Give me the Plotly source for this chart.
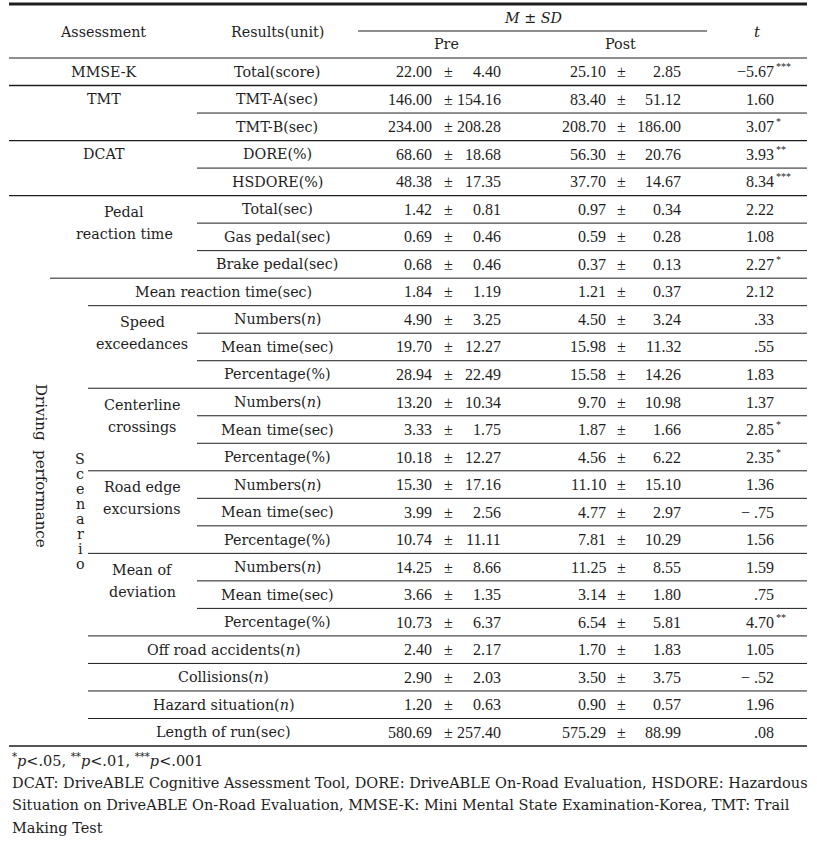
import plotly.graph_objects as go

# ---------------- data ----------------
group_labels = ["MMSE-K", "TMT", "DCAT"]
group_first_row = [0, 1, 3]

sub_group_labels = [["Pedal", "reaction time"], ["Speed", "exceedances"],
                    ["Centerline", "crossings"], ["Road edge", "excursions"],
                    ["Mean of", "deviation"]]
sub_group_first_row = [5, 9, 12, 15, 18]

results = ["Total(score)", "TMT-A(sec)", "TMT-B(sec)", "DORE(%)", "HSDORE(%)",
           "Total(sec)", "Gas pedal(sec)", "Brake pedal(sec)",
           "Mean reaction time(sec)",
           "Numbers(<i>n</i>)", "Mean time(sec)", "Percentage(%)",
           "Numbers(<i>n</i>)", "Mean time(sec)", "Percentage(%)",
           "Numbers(<i>n</i>)", "Mean time(sec)", "Percentage(%)",
           "Numbers(<i>n</i>)", "Mean time(sec)", "Percentage(%)",
           "Off road accidents(<i>n</i>)", "Collisions(<i>n</i>)",
           "Hazard situation(<i>n</i>)", "Length of run(sec)"]
wide_rows = [8, 21, 22, 23, 24]

pre_mean = ["22.00", "146.00", "234.00", "68.60", "48.38", "1.42", "0.69", "0.68",
            "1.84", "4.90", "19.70", "28.94", "13.20", "3.33", "10.18", "15.30",
            "3.99", "10.74", "14.25", "3.66", "10.73", "2.40", "2.90", "1.20", "580.69"]
pre_sd = ["4.40", "154.16", "208.28", "18.68", "17.35", "0.81", "0.46", "0.46",
          "1.19", "3.25", "12.27", "22.49", "10.34", "1.75", "12.27", "17.16",
          "2.56", "11.11", "8.66", "1.35", "6.37", "2.17", "2.03", "0.63", "257.40"]
post_mean = ["25.10", "83.40", "208.70", "56.30", "37.70", "0.97", "0.59", "0.37",
             "1.21", "4.50", "15.98", "15.58", "9.70", "1.87", "4.56", "11.10",
             "4.77", "7.81", "11.25", "3.14", "6.54", "1.70", "3.50", "0.90", "575.29"]
post_sd = ["2.85", "51.12", "186.00", "20.76", "14.67", "0.34", "0.28", "0.13",
           "0.37", "3.24", "11.32", "14.26", "10.98", "1.66", "6.22", "15.10",
           "2.97", "10.29", "8.55", "1.80", "5.81", "1.83", "3.75", "0.57", "88.99"]
t_value = ["−5.67", "1.60", "3.07", "3.93", "8.34", "2.22", "1.08", "2.27",
           "2.12", ".33", ".55", "1.83", "1.37", "2.85", "2.35", "1.36",
           "− .75", "1.56", "1.59", ".75", "4.70", "1.05", "− .52", "1.96", ".08"]
t_sig = ["***", "", "*", "**", "***", "", "", "*",
         "", "", "", "", "", "*", "*", "",
         "", "", "", "", "**", "", "", "", ""]

headers = ["Assessment", "Results(unit)", "<i>M</i> ± <i>SD</i>", "Pre", "Post", "<i>t</i>"]
side_label = "Driving  performance"
scenario_letters = list("Scenario")

footnotes = [
    "<sup>*</sup><i>p</i>&lt;.05, <sup>**</sup><i>p</i>&lt;.01, <sup>***</sup><i>p</i>&lt;.001",
    "DCAT: DriveABLE Cognitive Assessment Tool, DORE: DriveABLE On-Road Evaluation, HSDORE: Hazardous",
    "Situation on DriveABLE On-Road Evaluation, MMSE-K: Mini Mental State Examination-Korea, TMT: Trail",
    "Making Test",
]

# ---------------- layout ----------------
W, H = 817, 844
X0, X1 = 9, 807
TOP = 4
HDR_MID = 31
BODY_TOP = 58
RH = 27.52
n = len(results)

def row_y(i):
    return BODY_TOP + (i + 0.5) * RH

def row_edge(i):
    return BODY_TOP + i * RH

INK = "#1e1e1e"
LAB = dict(family="DejaVu Serif", size=14.3, color=INK)
NUM = dict(family="Liberation Serif", size=16, color=INK)
SUP = dict(family="Liberation Serif", size=10, color=INK)

fig = go.Figure()
shapes = []
ann = []

def hline(y, x0, x1=X1, w=1):
    shapes.append(dict(type="line", xref="x", yref="y", x0=x0, x1=x1, y0=y, y1=y,
                       line=dict(color=INK, width=w)))

def text(x, y, s, font=LAB, xanchor="center", **kw):
    ann.append(dict(x=x, y=y, xref="x", yref="y", text=s, showarrow=False,
                    xanchor=xanchor, yanchor="middle", font=font, **kw))

# lines
hline(TOP, X0, w=3)
hline(HDR_MID, 358, 707)
hline(BODY_TOP, X0, w=1.2)
full_breaks = {1, 3, 5, n}
pedal_break = {8}
scen_breaks = {9, 12, 15, 18, 21, 22, 23, 24}
for k in range(1, n + 1):
    y = row_edge(k)
    if k in full_breaks:
        hline(y, X0, w=1.3)
    elif k in pedal_break:
        hline(y, 50)
    elif k in scen_breaks:
        hline(y, 88)
    else:
        hline(y, 197)

# headers
text(103, 32, headers[0])
text(277, 32, headers[1])
text(533, 18, headers[2])
text(446, 44, headers[3])
text(620, 44, headers[4])
text(757, 32, headers[5], font=dict(family="DejaVu Serif", size=15, color=INK))

# group labels
for lab, r in zip(group_labels, group_first_row):
    text(104, row_y(r), lab)
for (l1, l2), r in zip(sub_group_labels, sub_group_first_row):
    xc = 124 if r == 5 else 142
    ym = row_edge(r + 1)
    text(xc, ym - 11, l1)
    text(xc, ym + 11, l2)

text(41, 466, side_label, textangle=90, font=dict(family="DejaVu Serif", size=15, color=INK))
for j, ch in enumerate(scenario_letters):
    text(80, 459 + 15 * j, ch)

# rows
for i in range(n):
    y = row_y(i)
    text(223 if i in wide_rows else 277, y, results[i])
    text(434, y, pre_mean[i], font=NUM, xanchor="right")
    text(448, y, "±", font=NUM)
    text(503, y, pre_sd[i], font=NUM, xanchor="right")
    text(608, y, post_mean[i], font=NUM, xanchor="right")
    text(621, y, "±", font=NUM)
    text(683, y, post_sd[i], font=NUM, xanchor="right")
    text(776, y, t_value[i], font=NUM, xanchor="right")
    if t_sig[i]:
        text(774, y - 5, t_sig[i], font=SUP, xanchor="left")

# footnotes
for j, s in enumerate(footnotes):
    text(10, 760 + 22.5 * j, s, font=dict(family="DejaVu Serif", size=14.5, color=INK),
         xanchor="left")

fig.update_layout(
    width=W, height=H, margin=dict(l=0, r=0, t=0, b=0),
    paper_bgcolor="white", plot_bgcolor="white",
    xaxis=dict(range=[0, W], visible=False, fixedrange=True),
    yaxis=dict(range=[H, 0], visible=False, fixedrange=True),
    shapes=shapes, annotations=ann, showlegend=False,
)
fig.write_html("out.html", config={"displayModeBar": False},
               post_script="document.body.style.margin='0px';document.body.style.overflow='hidden';")
